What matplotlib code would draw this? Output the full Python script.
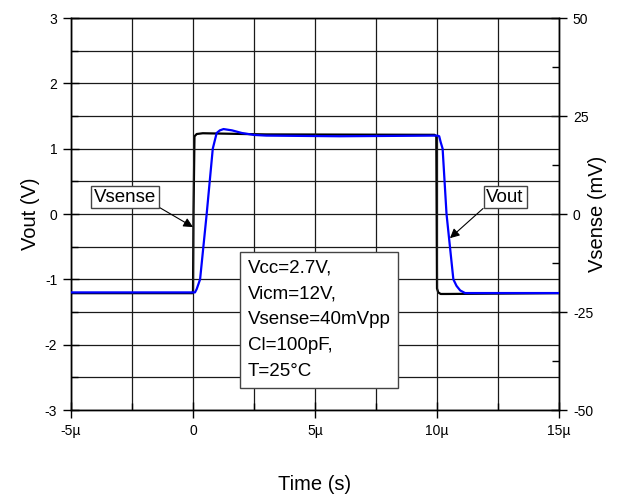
import matplotlib
matplotlib.use("Agg")
import matplotlib.pyplot as plt
from matplotlib.ticker import MultipleLocator

plt.rcParams['font.family'] = ['Liberation Sans', 'DejaVu Sans']
plt.rcParams['axes.unicode_minus'] = False

# Vout (blue, left axis, V) vs time (µs)
vout_t = [-5.0, 0.08, 0.15, 0.29, 0.56, 0.81, 0.97, 1.1, 1.25, 1.6, 2.0, 2.5, 3.0, 6.0, 10.0,
          10.09, 10.15, 10.23, 10.39, 10.67, 10.8, 10.95, 11.15, 15.0]
vout_v = [-1.2, -1.2, -1.15, -1.0, 0.0, 1.0, 1.24, 1.28, 1.3, 1.28, 1.24, 1.21, 1.2, 1.19, 1.2,
          1.19, 1.1, 1.0, 0.0, -1.0, -1.1, -1.17, -1.21, -1.21]

# Vsense (black, right axis, mV) vs time (µs)
vsense_t = [-5.0, -0.02, 0.0, 0.02, 0.06, 0.15, 0.4, 3.0, 9.9, 9.97, 10.0, 10.05, 10.15, 10.4, 15.0]
vsense_mv = [-20.2, -20.2, -19.5, 0.0, 19.8, 20.4, 20.6, 20.3, 20.2, 19.8, -19.0, -20.0, -20.4, -20.4, -20.2]

xticks = [-5, 0, 5, 10, 15]
xticklabels = ["-5µ", "0", "5µ", "10µ", "15µ"]
yticks_left = [-3, -2, -1, 0, 1, 2, 3]
yticks_right = [-50, -25, 0, 25, 50]

info_text = "Vcc=2.7V,\nVicm=12V,\nVsense=40mVpp\nCl=100pF,\nT=25°C"

fig = plt.figure(figsize=(6.17, 5.0), dpi=100)
ax = fig.add_axes([0.1151, 0.18, 0.906 - 0.1151, 0.964 - 0.18])
ax2 = ax.twinx()

ax.set_xlim(-5, 15)
ax.set_ylim(-3, 3)
ax2.set_ylim(-50, 50)

ax.set_xticks(xticks)
ax.set_xticklabels(xticklabels)
ax.xaxis.set_minor_locator(MultipleLocator(2.5))
ax.set_yticks(yticks_left)
ax.yaxis.set_minor_locator(MultipleLocator(0.5))
ax2.set_yticks(yticks_right)
ax2.yaxis.set_minor_locator(MultipleLocator(12.5))

ax.grid(True, which='both', color='#1a1a1a', linewidth=0.9)
ax.set_axisbelow(True)

ax.tick_params(axis='both', which='major', direction='inout', length=12, width=1, labelsize=10, pad=4)
ax.tick_params(axis='both', which='minor', direction='in', length=5, width=1)
ax2.tick_params(axis='y', which='major', direction='inout', length=12, width=1, labelsize=10, pad=4)
ax2.tick_params(axis='y', which='minor', direction='in', length=5, width=1)
for a in (ax, ax2):
    for s in a.spines.values():
        s.set_linewidth(1.0)
        s.set_color('black')

ax.set_xlabel("Time (s)", fontsize=14.5, labelpad=27)
ax.set_ylabel("Vout (V)", fontsize=14.5, labelpad=3)
ax2.set_ylabel("Vsense (mV)", fontsize=14.5, labelpad=-4)

ax2.plot(vsense_t, vsense_mv, color='black', linewidth=1.6, zorder=2)
ax.plot(vout_t, vout_v, color='#0000FF', linewidth=1.6, zorder=3)
ax.set_zorder(ax2.get_zorder() + 1)
ax.patch.set_visible(False)

ax.annotate("Vsense", xy=(0.0, -0.2), xytext=(-2.79, 0.26), fontsize=13.5,
            ha='center', va='center', zorder=10,
            bbox=dict(boxstyle='square,pad=0.15', fc='white', ec='#444444', lw=1),
            arrowprops=dict(arrowstyle='-|>', color='black', lw=0.8, mutation_scale=14,
                            relpos=(1.0, 0.0), shrinkA=0, shrinkB=0))
ax.annotate("Vout", xy=(10.53, -0.37), xytext=(12.79, 0.26), fontsize=13.5,
            ha='center', va='center', zorder=10,
            bbox=dict(boxstyle='square,pad=0.15', fc='white', ec='#444444', lw=1),
            arrowprops=dict(arrowstyle='-|>', color='black', lw=0.8, mutation_scale=14,
                            relpos=(0.0, 0.0), shrinkA=0, shrinkB=0))

ax.text(2.25, -0.7, info_text, fontsize=13.5, ha='left', va='top', linespacing=1.68, zorder=10,
        bbox=dict(boxstyle='square,pad=0.4', fc='white', ec='#444444', lw=1))

fig.savefig("out.png", dpi=100)
